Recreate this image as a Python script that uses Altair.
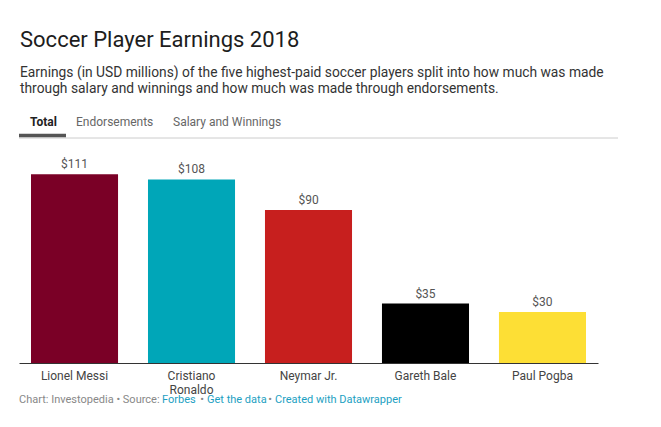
import altair as alt
import pandas as pd

players = ["Lionel Messi", "Cristiano Ronaldo", "Neymar Jr.", "Gareth Bale", "Paul Pogba"]
earnings = [111, 108, 90, 35, 30]
bar_colors = ["#7a0026", "#00a6b8", "#c71f1e", "#000000", "#fddf35"]

title_text = "Soccer Player Earnings 2018"
subtitle_lines = [
    "Earnings (in USD millions) of the five highest-paid soccer players split into how much was made",
    "through salary and winnings and how much was made through endorsements.",
]
tabs = ["Total", "Endorsements", "Salary and Winnings"]
footer_parts = ["Chart: Investopedia • Source:", "Forbes", "•", "Get the data", "•", "Created with Datawrapper"]

FONT = "Roboto"

df = pd.DataFrame({"player": players, "earnings": earnings, "color": bar_colors})
one = pd.DataFrame({"k": [0]})

xenc = alt.X(
    "player:N",
    sort=players,
    scale=alt.Scale(paddingInner=0.256, paddingOuter=0.1026),
    axis=alt.Axis(
        title=None,
        ticks=False,
        labelAngle=0,
        labelFont=FONT,
        labelFontSize=12,
        labelColor="#444444",
        labelPadding=7,
        labelLineHeight=14,
        labelExpr="datum.label == 'Cristiano Ronaldo' ? ['Cristiano', 'Ronaldo'] : datum.label",
        domainColor="#333333",
        domainWidth=1,
        grid=False,
    ),
)
yenc = alt.Y("earnings:Q", scale=alt.Scale(domain=[0, 120]), axis=None)

bars = alt.Chart(df).mark_bar().encode(
    x=xenc, y=yenc, color=alt.Color("color:N", scale=None)
)
labels = alt.Chart(df).transform_calculate(
    lab="'$' + datum.earnings"
).mark_text(baseline="alphabetic", dy=-6, font=FONT, fontSize=12, color="#555555").encode(
    x=alt.X("player:N", sort=players), y=yenc, text="lab:N"
)


def txt(text, x, y, size, color, weight="normal", align="left"):
    return alt.Chart(one).mark_text(
        align=align, baseline="alphabetic", font=FONT, fontSize=size, fontWeight=weight, color=color
    ).encode(x=alt.value(x), y=alt.value(y), text=alt.value(text))


layers = [bars, labels]
layers.append(txt(title_text, 1, -112, 22, "#1d1d1d"))
layers.append(txt(subtitle_lines[0], 1, -82, 13.8, "#333333"))
layers.append(txt(subtitle_lines[1], 1, -66, 13.8, "#333333"))
tab_x = [11, 57, 154]
for i, t in enumerate(tabs):
    layers.append(txt(t, tab_x[i], -33, 12, "#222222" if i == 0 else "#666666", "bold" if i == 0 else "normal"))

gray_line = alt.Chart(one).mark_rule(color="#cccccc", strokeWidth=1).encode(
    x=alt.value(0), x2=alt.value(599), y=alt.value(-21)
)
dark_line = alt.Chart(one).mark_rule(color="#555555", strokeWidth=3.5).encode(
    x=alt.value(0), x2=alt.value(47), y=alt.value(-23.5)
)
layers += [gray_line, dark_line]

footer_x = [0, 143, 183, 188, 251, 256]
footer_align = ["left", "left", "center", "left", "center", "left"]
footer_colors = ["#888888", "#1d9fc2", "#888888", "#1d9fc2", "#888888", "#1d9fc2"]
for i, t in enumerate(footer_parts):
    layers.append(txt(t, footer_x[i], 244, 11, footer_colors[i], align=footer_align[i]))

chart = alt.layer(*layers).properties(
    width=579,
    height=204,
    autosize=alt.AutoSizeParams(type="none"),
    padding={"left": 11, "top": 151, "right": 55, "bottom": 56},
).configure_view(stroke=None)

chart.save("out.html", embed_options={"renderer": "svg", "actions": False})
